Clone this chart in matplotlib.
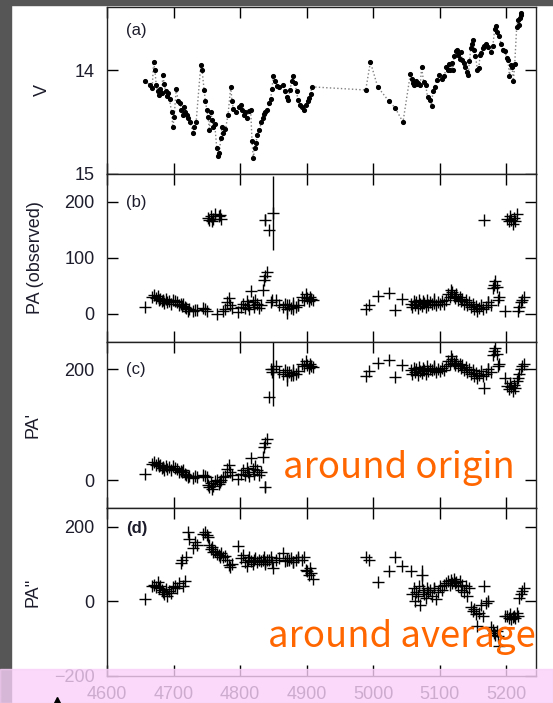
import numpy as np
import matplotlib
matplotlib.use("Agg")
import matplotlib.pyplot as plt
from matplotlib.patches import Rectangle
from matplotlib.lines import Line2D

plt.rcParams['font.family'] = ['Liberation Sans', 'DejaVu Sans']

#%% V-band light curve (JD - 2450000)
t_v = [4657, 4664, 4668, 4670, 4672, 4674, 4676, 4678, 4680, 4682, 4684, 4686,
       4688, 4690, 4692, 4694, 4697, 4699, 4701, 4704, 4707, 4710, 4712, 4714,
       4716, 4718, 4720, 4722, 4725, 4729, 4731, 4734, 4741, 4743, 4746, 4748,
       4750, 4752, 4754, 4756, 4758, 4760, 4762, 4765, 4767, 4769, 4771, 4773,
       4775, 4778, 4782, 4786, 4788, 4790, 4794, 4798, 4801, 4803, 4806, 4808,
       4810, 4813, 4816, 4818, 4820, 4822, 4824, 4826, 4829, 4832, 4834, 4836,
       4838, 4841, 4844, 4846, 4848, 4850, 4852, 4855, 4858, 4864, 4867, 4870,
       4872, 4875, 4878, 4880, 4882, 4885, 4887, 4890, 4893, 4896, 4899, 4902,
       4904, 4906, 4908, 4989, 4996, 5007, 5024, 5033, 5045, 5056, 5058, 5060,
       5062, 5064, 5066, 5068, 5071, 5073, 5076, 5079, 5082, 5085, 5088, 5090,
       5093, 5096, 5099, 5104, 5107, 5110, 5112, 5114, 5116, 5118, 5120, 5122,
       5124, 5126, 5128, 5130, 5132, 5134, 5136, 5139, 5141, 5143, 5145, 5147,
       5149, 5150, 5152, 5154, 5157, 5159, 5161, 5163, 5165, 5167, 5170, 5173,
       5177, 5180, 5183, 5185, 5187, 5189, 5193, 5195, 5198, 5201, 5203, 5205,
       5207, 5209, 5211, 5213, 5216, 5218, 5219, 5221, 5222, 5223]
v_mag = [14.10, 14.14, 14.17, 13.92, 14.00, 14.14, 14.20, 14.24, 14.18, 14.22, 14.05, 14.13,
         14.20, 14.25, 14.22, 14.28, 14.40, 14.55, 14.45, 14.18, 14.30, 14.32, 14.38, 14.43,
         14.35, 14.40, 14.43, 14.46, 14.50, 14.60, 14.55, 14.50, 13.95, 14.00, 14.19, 14.30,
         14.38, 14.45, 14.58, 14.40, 14.48, 14.55, 14.52, 14.75, 14.83, 14.80, 14.65, 14.55,
         14.60, 14.57, 14.43, 14.16, 14.30, 14.37, 14.40, 14.35, 14.33, 14.38, 14.43, 14.40,
         14.46, 14.39, 14.38, 14.68, 14.85, 14.75, 14.70, 14.62, 14.58, 14.50, 14.46, 14.42,
         14.40, 14.38, 14.32, 14.28, 14.18, 14.06, 14.10, 14.15, 14.16, 14.14, 14.20, 14.26,
         14.29, 14.19, 14.10, 14.06, 14.12, 14.20, 14.29, 14.33, 14.35, 14.38, 14.33, 14.30,
         14.27, 14.23, 14.16, 14.19, 13.92, 14.16, 14.30, 14.36, 14.50, 14.04, 14.08, 14.12,
         14.14, 14.10, 14.13, 14.12, 14.14, 13.97, 14.11, 14.14, 14.26, 14.29, 14.34, 14.20,
         14.16, 14.09, 14.05, 14.08, 14.06, 13.97, 14.00, 13.94, 14.00, 13.93, 14.00, 13.86,
         13.81, 13.80, 13.85, 13.89, 13.82, 13.90, 13.93, 13.97, 14.02, 14.05, 13.91, 13.79,
         13.75, 13.71, 13.80, 13.86, 14.00, 13.98, 13.85, 13.83, 13.79, 13.77, 13.75, 13.78,
         13.82, 13.77, 13.60, 13.57, 13.63, 13.67, 13.75, 13.80, 13.81, 13.88, 13.90, 14.06,
         13.95, 13.97, 14.10, 13.94, 13.58, 13.52, 13.56, 13.50, 13.47, 13.45]

#%% polarization angle epochs and values
t_pa = [4657, 4668, 4671, 4674, 4676, 4678, 4680, 4682, 4684, 4686, 4688, 4690,
        4693, 4696, 4699, 4702, 4705, 4708, 4711, 4713, 4715, 4717, 4719, 4722,
        4724, 4729, 4732, 4736, 4744, 4747, 4750, 4752, 4754, 4756, 4758, 4760,
        4762, 4765, 4768, 4770, 4772, 4775, 4778, 4781, 4783, 4785, 4788, 4797,
        4802, 4805, 4807, 4810, 4812, 4814, 4817, 4819, 4821, 4823, 4825, 4828,
        4831, 4834, 4836, 4838, 4840, 4837, 4844, 4846, 4848, 4850, 4854, 4858,
        4864, 4867, 4870, 4873, 4876, 4880, 4884, 4887, 4893, 4896, 4899, 4901,
        4903, 4905, 4907, 4909, 4989, 4994, 5007, 5024, 5033, 5044, 5057, 5059,
        5061, 5063, 5065, 5067, 5069, 5071, 5073, 5075, 5077, 5079, 5081, 5083,
        5086, 5089, 5091, 5094, 5097, 5101, 5104, 5107, 5110, 5113, 5115, 5117,
        5119, 5121, 5123, 5125, 5127, 5130, 5132, 5134, 5137, 5140, 5142, 5145,
        5148, 5150, 5152, 5155, 5157, 5160, 5162, 5165, 5167, 5170, 5173, 5177,
        5180, 5182, 5184, 5186, 5188, 5189, 5199, 5202, 5204, 5206, 5208, 5210,
        5212, 5214, 5216, 5218, 5220, 5222, 5224, 5227]
pa_obs = [12, 30, 33, 28, 31, 25, 27, 22, 24, 19, 26, 21,
          23, 18, 25, 22, 20, 15, 17, 14, 18, 12, 10, 5,
          8, 4, 7, 6, 10, 8, 5, 172, 168, 175, 165, 170,
          178, 0, 174, 176, 170, 5, 8, 20, 28, 15, 10, 2,
          12, 18, 10, 22, 15, 8, 40, 20, 12, 25, 18, 10,
          15, 42, 60, 68, 75, 168, 150, 20, 25, 180, 25, 15,
          12, 18, 8, 15, 10, 14, 12, 16, 30, 25, 35, 28,
          22, 30, 26, 24, 8, 16, 31, 36, 6, 27, 18, 12,
          22, 15, 20, 10, 24, 17, 14, 22, 19, 12, 25, 16,
          21, 18, 23, 15, 20, 17, 22, 18, 25, 35, 30, 43,
          38, 32, 28, 35, 25, 30, 22, 27, 18, 24, 15, 20,
          12, 18, 8, 14, 5, 10, 16, 8, 167, 12, 20, 15,
          45, 52, 58, 48, 25, 30, 5, 170, 165, 175, 168, 160,
          172, 166, 178, 5, 12, 20, 25, 30]
pa_origin = [12, 30, 33, 28, 31, 25, 27, 22, 24, 19, 26, 21,
             23, 18, 25, 22, 20, 15, 17, 14, 18, 12, 10, 5,
             8, 4, 7, 6, 10, 8, 5, -8, -12, -5, -15, -10,
             -2, 0, -6, -4, 0, 5, 8, 20, 28, 15, 10, 2,
             12, 18, 10, 22, 15, 8, 40, 20, 12, 25, 18, 10,
             15, 42, 60, 68, 75, -12, 150, 200, 195, 200, 205, 195,
             192, 198, 188, 195, 190, 194, 192, 196, 210, 205, 215, 208,
             202, 210, 206, 204, 188, 196, 211, 216, 186, 207, 198, 192,
             202, 195, 200, 190, 204, 197, 194, 202, 199, 192, 205, 196,
             201, 198, 203, 195, 200, 197, 202, 198, 205, 215, 210, 223,
             218, 212, 208, 215, 205, 210, 202, 207, 198, 204, 195, 200,
             192, 198, 188, 194, 185, 190, 196, 188, 166, 192, 200, 195,
             225, 232, 238, 228, 205, 210, 185, 170, 165, 175, 168, 160,
             172, 166, 178, 185, 192, 200, 205, 210]
pa_avg = [6, 40, 45, 38, 52, 35, 42, 30, 25, 20, 32, 15,
          28, 22, 38, 42, 35, 48, 103, 110, 40, 55, 120, 187,
          168, 142, 160, 150, 180, 185, 178, 172, 150, 140, 145, 133,
          135, 128, 125, 120, 130, 118, 122, 112, 98, 93, 100, 147,
          115, 125, 105, 95, 112, 118, 108, 100, 110, 115, 105, 112,
          108, 110, 120, 105, 112, 100, 110, 118, 105, 90, 110, 115,
          130, 108, 112, 110, 115, 105, 110, 118, 112, 120, 85, 80,
          70, 88, 75, 60, 118, 112, 53, 80, 118, 95, 80, 20,
          35, 0, 25, 15, 40, -10, 70, 30, 20, 10, 35, 25,
          30, 15, 35, 5, 25, 40, 30, 45, 50, 55, 45, 58,
          50, 60, 48, 52, 40, 55, 30, 45, 25, 40, 15, 35,
          -15, -25, -20, -35, -67, -30, -10, -40, 40, -5, 0, -70,
          -78, -85, -90, -80, -93, -120, -38, -40, -45, -35, -48, -42,
          -38, -44, -32, -40, 10, 20, 28, 37]

# points carrying a larger error (index -> half-width in degrees)
err_obs = {69: 67, 74: 18, 77: 16, 79: 12, 65: 10, 110: 14, 142: 12}
err_avg = {74: 18, 77: 16, 79: 12, 102: 28, 110: 14, 142: 12}


def err_array(d):
    e = np.zeros(len(t_pa))
    for i, v in d.items():
        e[i] = v
    return e


#%% figure
W, H = 553, 703
fig = plt.figure(figsize=(W / 100, H / 100), dpi=100)
fig.patch.set_facecolor('white')

# slide background strips
fig.add_artist(Rectangle((0, 0), 11 / W, 1, transform=fig.transFigure,
                         color='#565656', zorder=-5))
fig.add_artist(Rectangle((0, 1 - 5 / H), 1, 5 / H, transform=fig.transFigure,
                         color='#565656', zorder=-5))

left = 107 / W
width = (536 - 107) / W
edges = [7, 174, 341.5, 508, 676]
axes = []
for k in range(4):
    b = 1 - edges[k + 1] / H
    h = (edges[k + 1] - edges[k]) / H
    axes.append(fig.add_axes([left, b, width, h]))

tick_col = '#1c1c2c'
for ax in axes:
    ax.set_xlim(4600, 5245)
    ax.set_xticks([4600, 4700, 4800, 4900, 5000, 5100, 5200])
    ax.tick_params(direction='in', length=8, width=1, top=True, right=True,
                   labelsize=13, labelcolor=tick_col, pad=9)
    ax.tick_params(axis='x', labelbottom=False)
    for s in ax.spines.values():
        s.set_linewidth(1)
        s.set_color('#222222')
axes[-1].tick_params(axis='x', labelbottom=True, pad=7)

# (a) V magnitude
ax = axes[0]
ax.plot(t_v, v_mag, ls=':', color='#808080', lw=1, zorder=1)
ax.plot(t_v, v_mag, 'o', color='k', ms=2.7, zorder=2)
ax.set_ylim(15, 13.39)
ax.set_yticks([14, 15])

# (b)-(d) polarization angles
series = [(pa_obs, err_obs), (pa_origin, err_obs), (pa_avg, err_avg)]
for ax, (vals, errs) in zip(axes[1:], series):
    ax.errorbar(t_pa, vals, yerr=err_array(errs), fmt='+', ms=9, mew=1,
                color='k', elinewidth=1, capsize=0)
axes[1].set_ylim(-50, 250)
axes[1].set_yticks([0, 100, 200])
axes[2].set_ylim(-50, 250)
axes[2].set_yticks([0, 200])
axes[3].set_ylim(-200, 250)
axes[3].set_yticks([-200, 0, 200])

labels = ['V', 'PA (observed)', "PA'", "PA''"]
label_x = [-0.13, -0.148, -0.153, -0.153]
tags = ['(a)', '(b)', '(c)', '(d)']
tag_y = [0.86, 0.83, 0.83, 0.875]
for ax, lab, lx, tg, ty in zip(axes, labels, label_x, tags, tag_y):
    ax.set_ylabel(lab, fontsize=13, color=tick_col)
    ax.yaxis.set_label_coords(lx, 0.5)
    ax.text(0.045, ty, tg, transform=ax.transAxes, fontsize=12,
            color=tick_col, va='center', ha='left',
            fontweight='bold' if tg == '(d)' else 'normal')

# orange annotations
orange = '#ff6600'
fig.text(283 / W, 1 - 478 / H, 'around origin', color=orange, fontsize=26.3,
         family=['Noto Sans CJK JP', 'DejaVu Sans'], va='baseline', zorder=20)
fig.text(268 / W, 1 - 647 / H, 'around average', color=orange, fontsize=26.3,
         family=['Noto Sans CJK JP', 'DejaVu Sans'], va='baseline', zorder=20)

# pink band across the bottom
fig.add_artist(Rectangle((0, 0), 1, 34 / H, transform=fig.transFigure,
                         color='#f9d0f9', alpha=0.8, zorder=30))
fig.add_artist(Line2D([57 / W], [1 - 701 / H], marker='^', color='k', ms=6,
                      transform=fig.transFigure, zorder=31))

fig.savefig('out.png', dpi=100)
